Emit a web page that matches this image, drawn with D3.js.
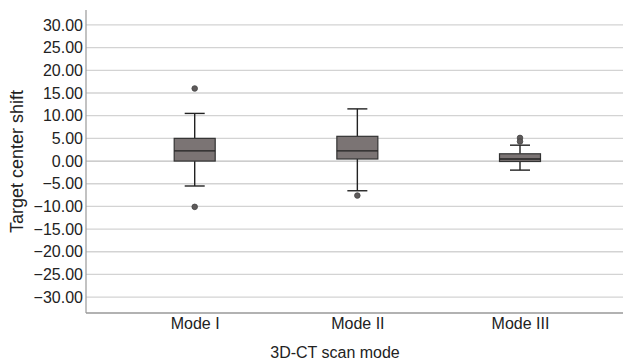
<!DOCTYPE html>
<html>
<head>
<meta charset="utf-8">
<script src="https://cdn.jsdelivr.net/npm/d3@7"></script>
<style>
  body { margin: 0; background: #fff; }
  text { font-family: "Liberation Sans", Arial, sans-serif; fill: #222; }
</style>
</head>
<body>
<svg id="chart" width="623" height="361"></svg>
<script>
// Data
const modes = ["Mode I", "Mode II", "Mode III"];
const q1 = [0.0, 0.45, -0.1];
const median = [2.25, 2.25, 0.45];
const q3 = [5.0, 5.45, 1.6];
const whiskerLow = [-5.5, -6.55, -2.0];
const whiskerHigh = [10.5, 11.5, 3.5];
const outliers = [[16.0, -10.1], [-7.6], [5.1, 4.3]];
const yTicks = [30, 25, 20, 15, 10, 5, 0, -5, -10, -15, -20, -25, -30];

const width = 623, height = 361;
const margin = { top: 10, right: 0, bottom: 48, left: 86 };

const svg = d3.select("#chart");

const y = d3.scaleLinear()
    .domain([-33.5, 33.3])
    .range([height - margin.bottom, margin.top]);

const x = d3.scalePoint()
    .domain(modes)
    .range([194.7, 520]);

const boxW = 41, capW = 20;

// Grid
svg.append("g")
  .selectAll("line")
  .data(yTicks)
  .join("line")
    .attr("x1", margin.left)
    .attr("x2", width - margin.right)
    .attr("y1", d => y(d))
    .attr("y2", d => y(d))
    .attr("stroke", d => d === 0 ? "#bdbdbd" : "#d3d3d3")
    .attr("stroke-width", 1.3);

// Y axis
const yAxis = d3.axisLeft(y)
    .tickValues(yTicks)
    .tickFormat(d3.format(".2f"))
    .tickSize(0)
    .tickPadding(3);

svg.append("g")
    .attr("transform", `translate(${margin.left},0)`)
    .call(yAxis)
    .call(g => g.select(".domain").remove())
    .call(g => g.selectAll("text")
        .style("font-family", "'Liberation Sans', Arial, sans-serif")
        .style("font-size", "16px")
        .attr("fill", "#222"));

// Axis lines
svg.append("line")
    .attr("x1", margin.left).attr("x2", margin.left)
    .attr("y1", margin.top).attr("y2", height - margin.bottom)
    .attr("stroke", "#999").attr("stroke-width", 1.2);
svg.append("line")
    .attr("x1", margin.left).attr("x2", width - margin.right)
    .attr("y1", height - margin.bottom).attr("y2", height - margin.bottom)
    .attr("stroke", "#999").attr("stroke-width", 1.4);

// X axis labels
const xAxis = d3.axisBottom(x).tickSize(0).tickPadding(5);
svg.append("g")
    .attr("transform", `translate(0,${height - margin.bottom})`)
    .call(xAxis)
    .call(g => g.select(".domain").remove())
    .call(g => g.selectAll("text")
        .style("font-family", "'Liberation Sans', Arial, sans-serif")
        .style("font-size", "16px")
        .attr("fill", "#222"));

// Boxes
const boxes = svg.append("g")
  .selectAll("g")
  .data(modes)
  .join("g")
    .attr("transform", d => `translate(${x(d)},0)`);

boxes.append("line")
    .attr("y1", (d, i) => y(whiskerHigh[i]))
    .attr("y2", (d, i) => y(q3[i]))
    .attr("stroke", "#222").attr("stroke-width", 1.4);
boxes.append("line")
    .attr("y1", (d, i) => y(q1[i]))
    .attr("y2", (d, i) => y(whiskerLow[i]))
    .attr("stroke", "#222").attr("stroke-width", 1.4);
boxes.append("line")
    .attr("x1", -capW / 2).attr("x2", capW / 2)
    .attr("y1", (d, i) => y(whiskerHigh[i]))
    .attr("y2", (d, i) => y(whiskerHigh[i]))
    .attr("stroke", "#222").attr("stroke-width", 1.4);
boxes.append("line")
    .attr("x1", -capW / 2).attr("x2", capW / 2)
    .attr("y1", (d, i) => y(whiskerLow[i]))
    .attr("y2", (d, i) => y(whiskerLow[i]))
    .attr("stroke", "#222").attr("stroke-width", 1.4);
boxes.append("rect")
    .attr("x", -boxW / 2)
    .attr("width", boxW)
    .attr("y", (d, i) => y(q3[i]))
    .attr("height", (d, i) => y(q1[i]) - y(q3[i]))
    .attr("fill", "#7b7474")
    .attr("stroke", "#333").attr("stroke-width", 1.2);
boxes.append("line")
    .attr("x1", -boxW / 2).attr("x2", boxW / 2)
    .attr("y1", (d, i) => y(median[i]))
    .attr("y2", (d, i) => y(median[i]))
    .attr("stroke", "#222").attr("stroke-width", 1.4);
boxes.each(function (d, i) {
  d3.select(this).selectAll("circle")
    .data(outliers[i])
    .join("circle")
      .attr("cy", v => y(v))
      .attr("r", 2.8)
      .attr("fill", "#5e5a5a")
      .attr("stroke", "#444").attr("stroke-width", 0.8);
});

// Axis titles
svg.append("text")
    .attr("transform", `translate(23,${(margin.top + height - margin.bottom) / 2}) rotate(-90)`)
    .attr("text-anchor", "middle")
    .style("font-size", "18px")
    .text("Target center shift");

svg.append("text")
    .attr("x", 335)
    .attr("y", 358)
    .attr("text-anchor", "middle")
    .style("font-size", "16px")
    .text("3D-CT scan mode");
</script>
</body>
</html>
